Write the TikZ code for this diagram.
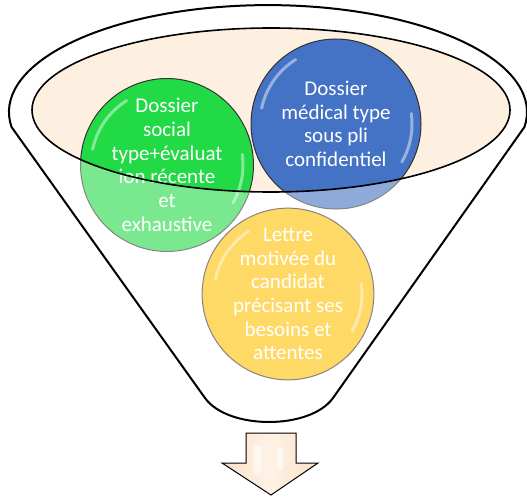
\documentclass[tikz,border=0pt]{standalone}
\usepackage{fontspec}
\setmainfont{Carlito}
\definecolor{cgreen}{RGB}{34,218,69}
\definecolor{cblue}{RGB}{68,114,196}
\definecolor{cyellow}{RGB}{255,192,0}
\definecolor{beige}{RGB}{253,240,225}
\definecolor{peach}{RGB}{251,224,198}
\definecolor{peachlight}{RGB}{254,242,230}
\tikzset{
  bubble/.style={circle, draw=black!80, line width=1pt, minimum size=170pt, inner sep=0pt,
    text=white, align=center, font=\fontsize{21}{23.7}\selectfont},
  gloss/.style={white, opacity=0.45, line width=3pt, line cap=round},
  rim/.style={draw=black, line width=2pt, line join=round},
  innerrim/.style={draw=black, line width=1.6pt},
}
\begin{document}
\begin{tikzpicture}[x=1pt,y=1pt]
\useasboundingbox (0,0) rectangle (527,-497);
% funnel body
\fill[white] (11.5,-127) arc[start angle=188,end angle=-8,x radius=259pt,y radius=107pt]
  -- (333,-398) .. controls (310,-430) and (228,-430) .. (205,-398) -- cycle;
% inner ellipse fill
\fill[beige] (271,-110) ellipse [x radius=239pt, y radius=82pt];
% bubbles
\node[bubble, fill=cgreen] (g) at (167,-165) {Dossier\\social\\type+évaluat\\ion récente\\et\\exhaustive};
\node[bubble, fill=cblue] (b) at (336,-124) {Dossier\\médical type\\sous pli\\confidentiel};
\node[bubble, fill=cyellow, minimum size=166pt] (y) at (288,-294) {Lettre\\motivée du\\candidat\\précisant ses\\besoins et\\attentes};
% gloss
\foreach \c/\r in {g/76,b/76,y/74}{
  \draw[gloss] (\c.center) ++(122:\r pt) arc[start angle=122,end angle=168,radius=\r pt];
  \draw[gloss] (\c.center) ++(8:\r pt) arc[start angle=8,end angle=-30,radius=\r pt];
}
% front veil of the funnel
\fill[white, opacity=0.4, even odd rule]
  (11.5,-127) arc[start angle=188,end angle=-8,x radius=259pt,y radius=107pt]
  -- (333,-398) .. controls (310,-430) and (228,-430) .. (205,-398) -- cycle
  (271,-110) ellipse [x radius=239pt, y radius=82pt];
% outlines
\draw[innerrim] (271,-110) ellipse [x radius=239pt, y radius=82pt];
\draw[rim] (11.5,-127) arc[start angle=188,end angle=-8,x radius=259pt,y radius=107pt]
  -- (333,-398) .. controls (310,-430) and (228,-430) .. (205,-398) -- cycle;
% arrow
\draw[black, line width=1pt, line join=miter, left color=peach, right color=peach, middle color=peachlight]
  (246,-433) -- (296,-433) -- (296,-463) -- (318,-463) -- (271,-495) -- (222,-463) -- (246,-463) -- cycle;
\fill[white, opacity=0.6, rounded corners=2pt] (253,-445) rectangle (261,-473);
\fill[white, opacity=0.6, rounded corners=2pt] (277,-447) rectangle (283,-470);
\end{tikzpicture}
\end{document}
